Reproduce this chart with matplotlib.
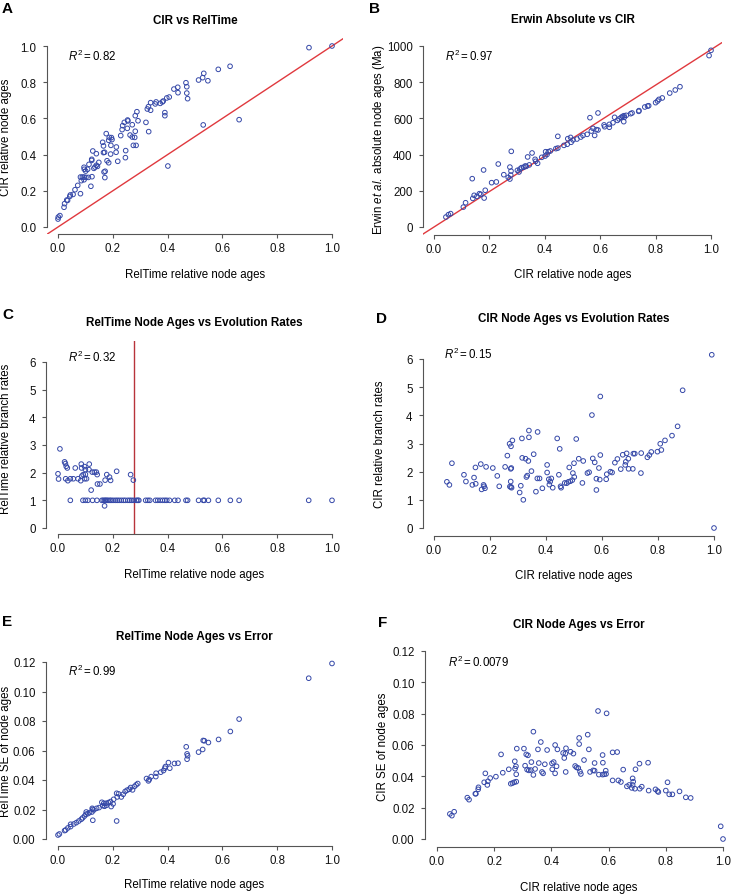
import numpy as np
import matplotlib
matplotlib.use('Agg')
import matplotlib.pyplot as plt

# ---- data ----
# A: RelTime relative age (x) vs CIR relative age (y)
cir_vs_reltime = [
    (1.0, 1.0), (0.916, 0.991), (0.628, 0.888), (0.585, 0.871), (0.532, 0.849), (0.528, 0.825),
    (0.513, 0.812), (0.547, 0.808), (0.467, 0.797), (0.470, 0.775), (0.437, 0.772), (0.423, 0.762),
    (0.438, 0.742), (0.470, 0.740), (0.473, 0.709), (0.406, 0.718), (0.397, 0.713), (0.384, 0.696),
    (0.381, 0.691), (0.373, 0.683), (0.358, 0.691), (0.355, 0.680), (0.338, 0.687), (0.330, 0.665),
    (0.326, 0.652), (0.338, 0.645), (0.390, 0.632), (0.390, 0.615), (0.288, 0.637), (0.282, 0.615),
    (0.292, 0.587), (0.321, 0.578), (0.331, 0.527), (0.254, 0.591), (0.255, 0.586), (0.242, 0.578),
    (0.236, 0.560), (0.271, 0.565), (0.253, 0.545), (0.234, 0.538), (0.229, 0.505), (0.263, 0.508),
    (0.271, 0.497), (0.280, 0.495), (0.282, 0.529), (0.275, 0.451), (0.285, 0.451), (0.176, 0.516),
    (0.187, 0.495), (0.195, 0.494), (0.197, 0.483), (0.185, 0.479), (0.163, 0.468), (0.166, 0.448),
    (0.193, 0.451), (0.213, 0.442), (0.212, 0.413), (0.192, 0.403), (0.166, 0.411), (0.170, 0.413),
    (0.179, 0.366), (0.185, 0.355), (0.218, 0.363), (0.246, 0.383), (0.247, 0.422), (0.172, 0.308),
    (0.168, 0.304), (0.171, 0.273), (0.127, 0.420), (0.140, 0.405), (0.123, 0.374), (0.123, 0.368),
    (0.149, 0.357), (0.140, 0.341), (0.135, 0.331), (0.144, 0.335), (0.131, 0.324), (0.113, 0.346),
    (0.095, 0.330), (0.096, 0.319), (0.101, 0.309), (0.108, 0.319), (0.082, 0.276), (0.089, 0.276),
    (0.095, 0.276), (0.102, 0.274), (0.111, 0.274), (0.124, 0.278), (0.085, 0.256), (0.095, 0.261),
    (0.072, 0.230), (0.062, 0.206), (0.055, 0.180), (0.045, 0.177), (0.043, 0.169), (0.032, 0.149),
    (0.035, 0.147), (0.024, 0.129), (0.022, 0.109), (0.082, 0.184), (0.120, 0.225), (0.001, 0.055),
    (0.0, 0.044), (0.007, 0.063), (0.401, 0.337), (0.530, 0.564), (0.661, 0.593),
]

# B: CIR relative age (x) vs Erwin et al. absolute age in Ma (y)
erwin_vs_cir = [
    (1.0, 976), (0.993, 947), (0.888, 775), (0.871, 757), (0.851, 740), (0.824, 713), (0.812, 705),
    (0.807, 696), (0.800, 687), (0.775, 670), (0.771, 668), (0.761, 663), (0.740, 643), (0.739, 639),
    (0.715, 630), (0.710, 626), (0.694, 617), (0.686, 615), (0.681, 611), (0.687, 606), (0.676, 606),
    (0.668, 597), (0.652, 606), (0.662, 589), (0.685, 582), (0.646, 576), (0.633, 567), (0.614, 564),
    (0.616, 554), (0.633, 551), (0.592, 630), (0.563, 604), (0.592, 536), (0.586, 538), (0.574, 545),
    (0.580, 506), (0.568, 530), (0.553, 512), (0.538, 506), (0.530, 497), (0.516, 486), (0.502, 481),
    (0.493, 495), (0.483, 488), (0.495, 468), (0.481, 457), (0.469, 451), (0.447, 501), (0.447, 436),
    (0.440, 433), (0.420, 420), (0.413, 416), (0.403, 416), (0.408, 401), (0.401, 392), (0.389, 385),
    (0.374, 352), (0.365, 374), (0.367, 363), (0.354, 409), (0.338, 387), (0.344, 343), (0.333, 335),
    (0.324, 330), (0.310, 320), (0.307, 304), (0.301, 313), (0.316, 328), (0.329, 337), (0.279, 418),
    (0.274, 331), (0.278, 309), (0.277, 287), (0.268, 274), (0.274, 265), (0.252, 289), (0.232, 348),
    (0.225, 249), (0.208, 245), (0.179, 315), (0.138, 267), (0.185, 203), (0.181, 160), (0.164, 184),
    (0.145, 175), (0.140, 158), (0.155, 169), (0.169, 180), (0.114, 134), (0.106, 110), (0.060, 74),
    (0.052, 68), (0.043, 55),
]
erwin_fit_slope = 980  # regression line, Ma per unit CIR age

# C: RelTime relative age (x) vs RelTime relative branch rate (y)
reltime_rate_high = [
    (0.007, 2.86), (0.0, 1.96), (0.002, 1.77), (0.024, 2.39), (0.027, 2.33), (0.030, 2.23),
    (0.034, 2.17), (0.028, 1.78), (0.036, 1.71), (0.045, 1.78), (0.056, 1.78), (0.063, 2.17),
    (0.073, 1.78), (0.083, 1.71), (0.085, 2.31), (0.086, 2.17), (0.092, 1.93), (0.097, 2.22),
    (0.100, 2.11), (0.097, 1.78), (0.104, 1.78), (0.114, 2.31), (0.113, 2.11), (0.125, 2.02),
    (0.133, 2.02), (0.140, 2.02), (0.143, 1.93), (0.144, 1.59), (0.153, 1.59), (0.121, 1.37),
    (0.172, 1.73), (0.178, 1.93), (0.188, 1.84), (0.192, 1.72), (0.214, 2.05), (0.265, 1.93),
    (0.275, 1.73), (0.170, 0.80), (0.087, 1.88), (0.100, 1.94),
]
reltime_rate_one_x = [
    0.045, 0.091, 0.100, 0.109, 0.126, 0.142, 0.160, 0.165, 0.170, 0.174, 0.178, 0.183, 0.189,
    0.194, 0.201, 0.209, 0.216, 0.223, 0.231, 0.239, 0.246, 0.255, 0.262, 0.269, 0.277, 0.286,
    0.291, 0.295, 0.320, 0.328, 0.335, 0.356, 0.364, 0.373, 0.382, 0.390, 0.397, 0.407, 0.426,
    0.438, 0.467, 0.473, 0.513, 0.530, 0.534, 0.549, 0.585, 0.629, 0.661, 0.915, 1.0,
]
reltime_rate_vline = 0.277

# D: CIR relative age (x) vs CIR relative branch rate (y)
cir_rate = [
    (0.992, 6.15), (1.0, 0.0), (0.888, 4.89), (0.870, 3.61), (0.850, 3.28), (0.825, 3.11),
    (0.812, 2.77), (0.808, 2.99), (0.798, 2.71), (0.776, 2.70), (0.769, 2.59), (0.762, 2.51),
    (0.740, 2.66), (0.739, 1.95), (0.717, 2.64), (0.712, 2.64), (0.710, 2.10), (0.695, 2.10),
    (0.694, 2.46), (0.688, 2.65), (0.685, 2.35), (0.683, 2.24), (0.674, 2.60), (0.667, 2.09),
    (0.655, 2.45), (0.646, 2.32), (0.636, 1.97), (0.630, 2.00), (0.617, 1.91), (0.615, 1.73),
    (0.594, 4.67), (0.564, 4.01), (0.594, 2.59), (0.592, 1.72), (0.580, 1.75), (0.580, 1.35),
    (0.574, 2.33), (0.567, 2.47), (0.589, 2.13), (0.554, 1.98), (0.548, 1.95), (0.533, 2.38),
    (0.530, 1.60), (0.517, 2.46), (0.508, 3.16), (0.500, 2.30), (0.496, 1.95), (0.501, 1.81),
    (0.494, 1.70), (0.487, 1.66), (0.480, 1.64), (0.474, 1.59), (0.467, 1.60), (0.483, 2.15),
    (0.454, 1.43), (0.452, 1.48), (0.446, 1.89), (0.449, 2.81), (0.440, 3.18), (0.419, 1.76),
    (0.424, 1.43), (0.415, 1.65), (0.412, 1.54), (0.410, 1.73), (0.404, 1.97), (0.404, 2.24),
    (0.387, 1.41), (0.377, 1.76), (0.369, 1.76), (0.370, 3.41), (0.356, 2.62), (0.348, 2.02),
    (0.337, 2.38), (0.330, 1.81), (0.333, 1.86), (0.327, 2.46), (0.315, 2.49), (0.339, 3.22),
    (0.339, 3.46), (0.314, 3.18), (0.319, 1.00), (0.364, 1.29), (0.310, 1.50), (0.306, 1.26),
    (0.280, 3.11), (0.275, 2.90), (0.270, 2.99), (0.274, 1.65), (0.275, 1.46), (0.277, 1.43),
    (0.271, 1.47), (0.276, 2.13), (0.274, 2.10), (0.262, 2.57), (0.254, 2.17), (0.233, 1.48),
    (0.226, 1.85), (0.210, 2.13), (0.186, 2.17), (0.167, 2.27), (0.148, 2.15), (0.143, 1.79),
    (0.137, 1.53), (0.149, 1.57), (0.177, 1.53), (0.179, 1.48), (0.170, 1.37), (0.182, 1.41),
    (0.114, 1.65), (0.107, 1.89), (0.064, 2.30), (0.046, 1.64), (0.055, 1.53),
]

# E: RelTime relative age (x) vs RelTime SE (y)
reltime_se = [
    (1.0, 0.119), (0.915, 0.109), (0.661, 0.0813), (0.629, 0.0729), (0.586, 0.0675), (0.549, 0.0654),
    (0.530, 0.0668), (0.534, 0.0666), (0.528, 0.0607), (0.513, 0.0589), (0.468, 0.0625),
    (0.471, 0.0577), (0.473, 0.0564), (0.471, 0.0541), (0.438, 0.0514), (0.425, 0.0512),
    (0.403, 0.0518), (0.408, 0.0480), (0.392, 0.0491), (0.390, 0.0480), (0.385, 0.0464),
    (0.375, 0.0453), (0.358, 0.0446), (0.357, 0.0423), (0.340, 0.0423), (0.333, 0.0403),
    (0.330, 0.0394), (0.323, 0.0410), (0.291, 0.0376), (0.285, 0.0367), (0.279, 0.0356),
    (0.272, 0.0333), (0.265, 0.0349), (0.260, 0.0337), (0.252, 0.0331), (0.245, 0.0322),
    (0.238, 0.0303), (0.231, 0.0285), (0.221, 0.0306), (0.214, 0.0310), (0.216, 0.0285),
    (0.214, 0.0122), (0.203, 0.0269), (0.192, 0.0254), (0.184, 0.0247), (0.175, 0.0242),
    (0.167, 0.0242), (0.163, 0.0226), (0.170, 0.0222), (0.160, 0.0249), (0.150, 0.0213),
    (0.141, 0.0208), (0.131, 0.0197), (0.126, 0.0201), (0.124, 0.0183), (0.125, 0.0208),
    (0.127, 0.0127), (0.115, 0.0179), (0.109, 0.0172), (0.102, 0.0168), (0.097, 0.0156),
    (0.090, 0.0143), (0.085, 0.0134), (0.076, 0.0122), (0.067, 0.0111), (0.058, 0.0102),
    (0.046, 0.0100), (0.046, 0.0084), (0.036, 0.0075), (0.028, 0.0061), (0.024, 0.0057),
    (0.005, 0.0034), (0.0, 0.0027), (0.194, 0.0220), (0.201, 0.0238), (0.103, 0.0183),
    (0.177, 0.0229),
]

# F: CIR relative age (x) vs CIR SE (y)
cir_se = [
    (0.992, 0.0081), (1.0, 0.0), (0.887, 0.0262), (0.870, 0.0266), (0.848, 0.0304), (0.823, 0.0285),
    (0.812, 0.0285), (0.806, 0.0362), (0.800, 0.0309), (0.774, 0.0300), (0.771, 0.0306),
    (0.764, 0.0317), (0.740, 0.0309), (0.738, 0.0487), (0.716, 0.0334), (0.709, 0.0321),
    (0.708, 0.0481), (0.694, 0.0445), (0.692, 0.0321), (0.684, 0.0345), (0.686, 0.0366),
    (0.684, 0.0387), (0.681, 0.0326), (0.672, 0.0345), (0.664, 0.0336), (0.651, 0.0443),
    (0.643, 0.0364), (0.634, 0.0374), (0.630, 0.0555), (0.614, 0.0553), (0.614, 0.0374),
    (0.593, 0.0802), (0.563, 0.0817), (0.590, 0.0436), (0.591, 0.0415), (0.585, 0.0413),
    (0.579, 0.0411), (0.580, 0.0487), (0.579, 0.0536), (0.566, 0.0411), (0.551, 0.0436),
    (0.551, 0.0485), (0.546, 0.0438), (0.535, 0.0428), (0.531, 0.0572), (0.527, 0.0666),
    (0.514, 0.0504), (0.503, 0.0415), (0.500, 0.0430), (0.494, 0.0453), (0.488, 0.0457),
    (0.483, 0.0466), (0.497, 0.0606), (0.497, 0.0645), (0.477, 0.0545), (0.467, 0.0557),
    (0.450, 0.0428), (0.449, 0.0545), (0.451, 0.0579), (0.445, 0.0517), (0.441, 0.0549),
    (0.421, 0.0572), (0.413, 0.0600), (0.418, 0.0464), (0.413, 0.0419), (0.408, 0.0491),
    (0.402, 0.0483), (0.403, 0.0445), (0.385, 0.0568), (0.377, 0.0477), (0.371, 0.0419),
    (0.367, 0.0428), (0.363, 0.0619), (0.356, 0.0485), (0.353, 0.0572), (0.343, 0.0447),
    (0.337, 0.0685), (0.337, 0.0409), (0.330, 0.0491), (0.328, 0.0440), (0.321, 0.0438),
    (0.315, 0.0443), (0.318, 0.0534), (0.312, 0.0540), (0.308, 0.0468), (0.304, 0.0577),
    (0.279, 0.0577), (0.277, 0.0413), (0.276, 0.0464), (0.273, 0.0449), (0.272, 0.0496),
    (0.277, 0.0366), (0.270, 0.0362), (0.264, 0.0357), (0.258, 0.0353), (0.251, 0.0445),
    (0.230, 0.0423), (0.224, 0.0540), (0.206, 0.0398), (0.186, 0.0389), (0.178, 0.0368),
    (0.169, 0.0419), (0.165, 0.0362), (0.176, 0.0345), (0.145, 0.0330), (0.144, 0.0317),
    (0.136, 0.0289), (0.134, 0.0289), (0.112, 0.0251), (0.106, 0.0264), (0.060, 0.0174),
    (0.052, 0.0149), (0.045, 0.0160),
]

r2_values = ['0.82', '0.97', '0.32', '0.15', '0.99', '0.0079']

# ---- style ----
plt.rcParams['font.family'] = ['Liberation Sans', 'DejaVu Sans']
plt.rcParams['mathtext.fontset'] = 'custom'
plt.rcParams['mathtext.rm'] = 'Liberation Sans'
plt.rcParams['mathtext.it'] = 'Liberation Sans:italic'
plt.rcParams['mathtext.bf'] = 'Liberation Sans:bold'

W, H = 732, 895
PT_BLUE = '#3548a8'
LINE_RED = '#e0393e'
AX_GRAY = '#555555'
FS = 8.3

fig = plt.figure(figsize=(W / 100, H / 100), dpi=100)


def fx(x):
    return x / W


def fy(y):
    return 1 - y / H


def make_axes(box, xcal, ycal, xticks, yticks, xfmt, yfmt):
    # box = left, top, right, bottom in pixels; cal = ((v0, px0), (v1, px1))
    L, T, R, B = box
    ax = fig.add_axes([fx(L), fy(B), (R - L) / W, (B - T) / H])
    (xv0, xp0), (xv1, xp1) = xcal
    sx = (xp1 - xp0) / (xv1 - xv0)
    ax.set_xlim(xv0 + (L - xp0) / sx, xv0 + (R - xp0) / sx)
    (yv0, yp0), (yv1, yp1) = ycal
    sy = (yp0 - yp1) / (yv1 - yv0)
    ax.set_ylim(yv0 - (B - yp0) / sy, yv0 + (yp0 - T) / sy)
    ax.set_xticks(xticks)
    ax.set_yticks(yticks)
    ax.set_xticklabels([xfmt.format(v) for v in xticks])
    ax.set_yticklabels([yfmt.format(v) for v in yticks])
    for s in ['top', 'right']:
        ax.spines[s].set_visible(False)
    for s in ['left', 'bottom']:
        ax.spines[s].set_color(AX_GRAY)
        ax.spines[s].set_linewidth(0.8)
    ax.spines['left'].set_bounds(yticks[0], yticks[-1])
    ax.spines['bottom'].set_bounds(xticks[0], xticks[-1])
    ax.tick_params(direction='out', length=3, width=0.8, color=AX_GRAY,
                   labelsize=FS, labelcolor='#111111')
    ax.tick_params(axis='x', pad=3)
    ax.tick_params(axis='y', pad=4.5)
    ax.patch.set_visible(False)
    return ax


def decorate(ax, letter, letter_xy, title, title_y, xlabel, xlabel_y, ylabel, ylabel_x, r2, r2_xy):
    pos = ax.get_position()
    xc = (pos.x0 + min(pos.x1, 1.0)) / 2
    fig.text(fx(letter_xy[0]), fy(letter_xy[1]), letter, fontsize=11, fontweight='bold',
             ha='left', va='top')
    fig.text(xc, fy(title_y), title, fontsize=8.4, fontweight='bold',
             ha='center', va='center')
    ax.set_xlabel(xlabel, fontsize=FS, va='center')
    ax.xaxis.set_label_coords(xc, fy(xlabel_y), transform=fig.transFigure)
    ax.set_ylabel(ylabel, fontsize=FS, va='center')
    ax.yaxis.set_label_coords(fx(ylabel_x), (pos.y0 + pos.y1) / 2, transform=fig.transFigure)
    fig.text(fx(r2_xy[0]), fy(r2_xy[1]), r'$R^2 = $' + r2, fontsize=FS, ha='left', va='center')


def scatter(ax, pts):
    p = np.array(pts, dtype=float)
    ax.scatter(p[:, 0], p[:, 1], s=11, facecolors='none', edgecolors=PT_BLUE,
               linewidths=0.7, zorder=3, clip_on=False)


ticks01 = [0.0, 0.2, 0.4, 0.6, 0.8, 1.0]

# A
axA = make_axes((47, 39, 343, 235), ((0, 58), (1, 332)), ((0, 228), (1, 47)),
                ticks01, ticks01, '{:.1f}', '{:.1f}')
axA.axline((0, 0), slope=1, color=LINE_RED, lw=1, zorder=2)
scatter(axA, cir_vs_reltime)
decorate(axA, 'A', (2, 2), 'CIR vs RelTime', 21, 'RelTime relative node ages', 275,
         'CIR relative node ages', 6, r2_values[0], (68, 56))

# B
axB = make_axes((423, 43, 722, 236), ((0, 434), (1, 711)), ((0, 228), (1000, 47)),
                ticks01, [0, 200, 400, 600, 800, 1000], '{:.1f}', '{:d}')
axB.axline((0, 0), slope=erwin_fit_slope, color=LINE_RED, lw=1, zorder=2)
scatter(axB, erwin_vs_cir)
decorate(axB, 'B', (369, 2), 'Erwin Absolute vs CIR', 20, 'CIR relative node ages', 275,
         r'Erwin $\mathit{et\ al.}$ absolute node ages (Ma)', 379, r2_values[1], (445, 56))

# C
axC = make_axes((46, 342, 343, 535), ((0, 58), (1, 332)), ((0, 529), (6, 363)),
                ticks01, [0, 1, 2, 3, 4, 5, 6], '{:.1f}', '{:d}')
axC.axvline(reltime_rate_vline, color='#b8333b', lw=1, zorder=2)
scatter(axC, reltime_rate_high)
scatter(axC, [(x, 1.0) for x in reltime_rate_one_x])
decorate(axC, 'C', (2, 308), 'RelTime Node Ages vs Evolution Rates', 323,
         'RelTime relative node ages', 575, 'RelTime relative branch rates', 6,
         r2_values[2], (68, 357))

# D
axD = make_axes((423, 352, 725, 537), ((0, 434), (1, 714)), ((0, 529), (6, 360)),
                ticks01, [0, 1, 2, 3, 4, 5, 6], '{:.1f}', '{:d}')
scatter(axD, cir_rate)
decorate(axD, 'D', (376, 312), 'CIR Node Ages vs Evolution Rates', 319,
         'CIR relative node ages', 576, 'CIR relative branch rates', 380,
         r2_values[3], (444, 354))

# E
se_ticks = [0.0, 0.02, 0.04, 0.06, 0.08, 0.10, 0.12]
axE = make_axes((46, 655, 343, 847), ((0, 58), (1, 332)), ((0, 840), (0.12, 663)),
                ticks01, se_ticks, '{:.1f}', '{:.2f}')
scatter(axE, reltime_se)
decorate(axE, 'E', (2, 615), 'RelTime Node Ages vs Error', 637,
         'RelTime relative node ages', 885, 'RelTime SE of node ages', 6,
         r2_values[4], (68, 671))

# F
axF = make_axes((425, 645, 734, 848), ((0, 437), (1, 723)), ((0, 840), (0.12, 652)),
                ticks01, se_ticks, '{:.1f}', '{:.2f}')
scatter(axF, cir_se)
decorate(axF, 'F', (378, 616), 'CIR Node Ages vs Error', 625,
         'CIR relative node ages', 888, 'CIR SE of node ages', 383,
         r2_values[5], (448, 662))

fig.savefig('out.png', dpi=100)
